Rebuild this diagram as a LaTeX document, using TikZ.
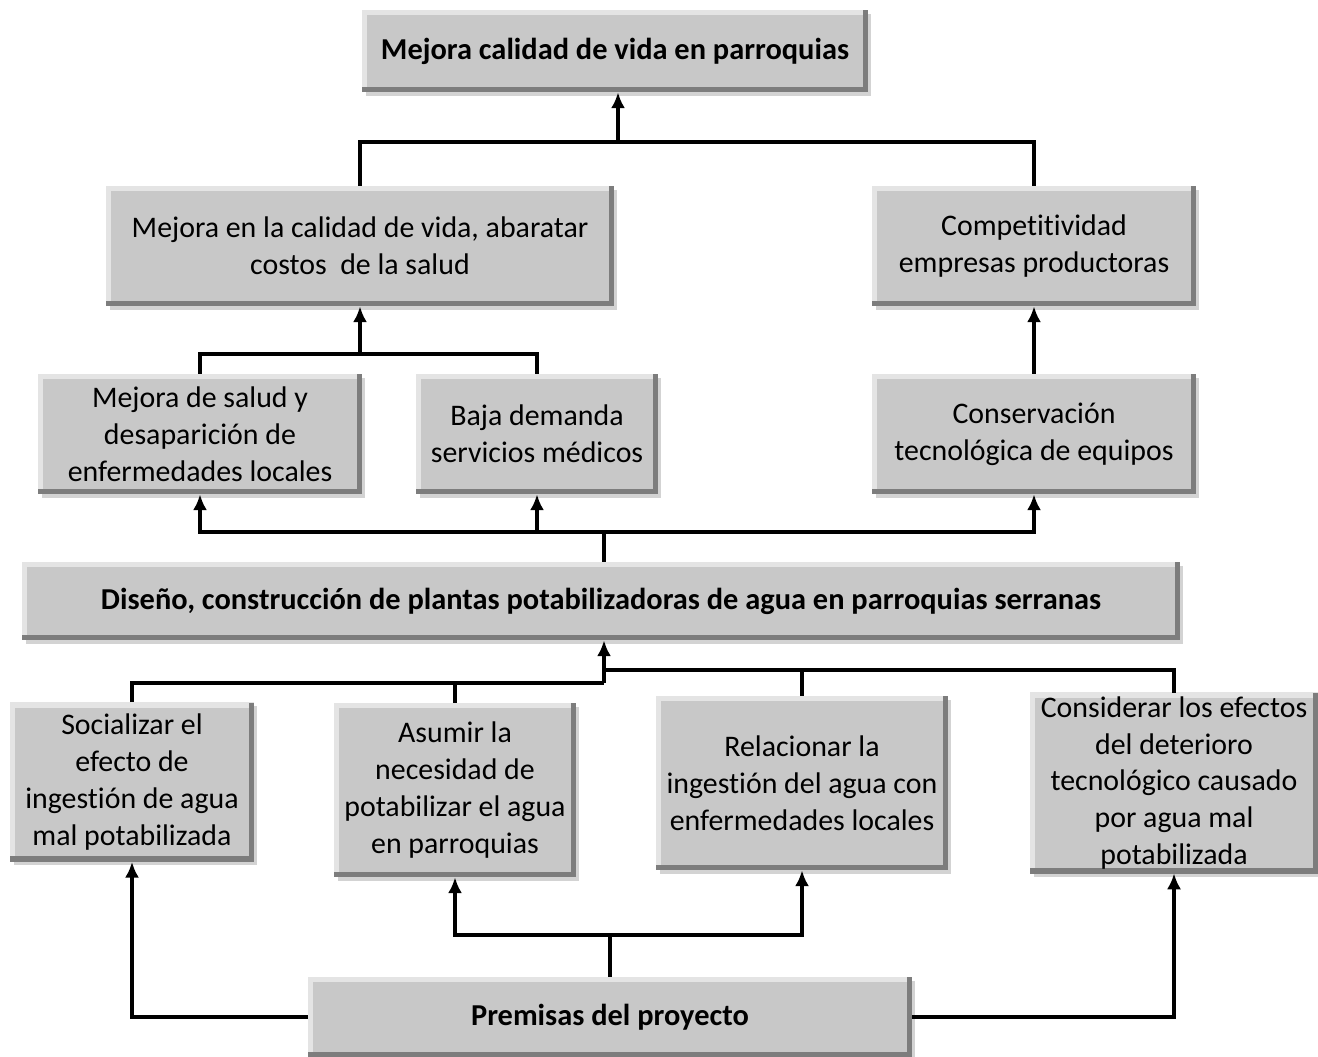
\documentclass[tikz,border=0pt]{standalone}
\usepackage{fontspec}
\setmainfont{Carlito}[Ligatures={NoCommon}]
\usetikzlibrary{shadows,arrows.meta}
\definecolor{boxgray}{RGB}{200,200,200}
\definecolor{bevellight}{RGB}{228,228,228}
\definecolor{beveldark}{RGB}{125,125,125}
\tikzset{
  bevelbox/.style={rectangle, fill=boxgray, inner sep=2pt, align=center,
    font=\fontsize{17}{21}\selectfont,
    drop shadow={opacity=0.35, shadow xshift=2pt, shadow yshift=-2pt},
    path picture={
      \draw[bevellight, line width=6pt] (path picture bounding box.south west)
        -- (path picture bounding box.north west) -- (path picture bounding box.north east);
      \draw[beveldark, line width=6pt] (path picture bounding box.south west)
        -- (path picture bounding box.south east) -- (path picture bounding box.north east);
    }},
  titlebox/.style={bevelbox, font=\fontsize{17.3}{21}\selectfont\bfseries},
  link/.style={line width=2pt, line join=miter},
  uparrow/.style={link, -{Latex[length=9pt,width=8pt]}}
}
\begin{document}
\begin{tikzpicture}[x=0.02cm, y=-0.02cm]
\useasboundingbox (0,0) rectangle (1318,1057);

% goal
\node[titlebox, minimum width=10.12cm, minimum height=1.64cm] (meta) at (615,51) {Mejora calidad de vida en parroquias};

% effects
\node[bevelbox, minimum width=10.16cm, minimum height=2.4cm] (calidad) at (360,246) {Mejora en la calidad de vida, abaratar\\costos~ de la salud};
\node[bevelbox, minimum width=6.48cm, minimum height=2.4cm] (compet) at (1034,246) {Competitividad\\empresas productoras};
\node[bevelbox, minimum width=6.48cm, minimum height=2.4cm] (salud) at (200,434) {Mejora de salud y\\desaparición de\\enfermedades locales};
\node[bevelbox, minimum width=4.84cm, minimum height=2.4cm] (baja) at (537,434) {Baja demanda\\servicios médicos};
\node[bevelbox, minimum width=6.48cm, minimum height=2.4cm] (conserv) at (1034,434) {Conservación\\tecnológica de equipos};

% project
\node[titlebox, minimum width=23.16cm, minimum height=1.56cm] (diseno) at (601,601) {Diseño, construcción de plantas potabilizadoras de agua en parroquias serranas};

% premises
\node[bevelbox, minimum width=4.88cm, minimum height=3.18cm] (soc) at (132,782) {Socializar el\\efecto de\\ingestión de agua\\mal potabilizada};
\node[bevelbox, minimum width=4.84cm, minimum height=3.48cm] (asu) at (455,790) {Asumir la\\necesidad de\\potabilizar el agua\\en parroquias};
\node[bevelbox, minimum width=5.84cm, minimum height=3.48cm] (rel) at (802,783) {Relacionar la\\ingestión del agua con\\enfermedades locales};
\node[bevelbox, minimum width=5.76cm, minimum height=3.48cm] (consid) at (1174,783) {Considerar los efectos\\del deterioro\\tecnológico causado\\por agua mal\\potabilizada};
\node[titlebox, minimum width=12.08cm, minimum height=1.6cm] (prem) at (610,1017) {Premisas del proyecto};

% junctions
\coordinate (jT) at (618,142);
\coordinate (jC) at (360,354);
\coordinate (jM) at (604,532);
\coordinate (jL) at (604,683);
\coordinate (jR) at (604,670);
\coordinate (jP) at (610,935);

\draw[link] (calidad.north) |- (jT) -| (compet.north);
\draw[uparrow] (jT) -- (jT |- meta.south);
\draw[link] (salud.north) |- (jC) -| (baja.north);
\draw[uparrow] (jC) -- (calidad.south);
\draw[uparrow] (conserv) -- (compet);

\draw[link] (jM |- diseno.north) -- (jM);
\draw[uparrow] (jM) -| (salud.south);
\draw[uparrow] (jM) -| (baja.south);
\draw[uparrow] (jM) -| (conserv.south);

\draw[link] (soc.north) |- (jL);
\draw[link] (asu.north) -- (asu.north |- jL);
\draw[link] (jR) -| (consid.north);
\draw[link] (rel.north) -- (rel.north |- jR);
\draw[uparrow] (jL) -- (jL |- diseno.south);

\draw[uparrow] (prem.west) -| (soc.south);
\draw[uparrow] (prem.east) -| (consid.south);
\draw[link] (prem.north) -- (jP);
\draw[uparrow] (jP) -| (asu.south);
\draw[uparrow] (jP) -| (rel.south);
\end{tikzpicture}
\end{document}
